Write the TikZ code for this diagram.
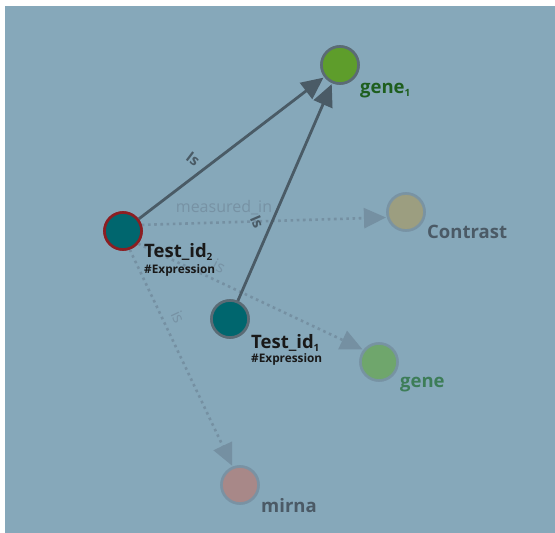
\documentclass[tikz,border=0pt]{standalone}
\usepackage{fontspec}
\setmainfont{Open Sans}
\usetikzlibrary{arrows.meta}

\definecolor{bgblue}{HTML}{86A8BA}
\definecolor{edgedark}{HTML}{4A5B66}
\definecolor{edgefade}{HTML}{7590A2}
\definecolor{ringgray}{HTML}{5B6B75}
\definecolor{ringfade}{HTML}{7893A5}
\definecolor{tealfill}{HTML}{00666E}
\definecolor{ringred}{HTML}{8B1E22}
\definecolor{genegreen}{HTML}{5E9D2B}
\definecolor{genefade}{HTML}{6FA66C}
\definecolor{contrastfill}{HTML}{9C9E80}
\definecolor{mirnafill}{HTML}{A88888}
\definecolor{txtgreen}{HTML}{1E5E1E}
\definecolor{txtgreenfade}{HTML}{3D7D58}
\definecolor{txtgray}{HTML}{4B5A66}
\definecolor{txtfade}{HTML}{7792A4}

\newcommand\subidx[1]{\raisebox{-0.3ex}{\fontsize{10}{10}\selectfont #1}}

\tikzset{
  x=1pt, y=-1pt,
  entity/.style={circle, inner sep=0pt, minimum size=37pt, line width=2.6pt},
  namelabel/.style={anchor=base west, inner sep=0pt, font=\fontsize{18.5}{19}\selectfont\bfseries},
  taglabel/.style={anchor=base west, inner sep=0pt, font=\fontsize{11.8}{12}\selectfont\bfseries},
  solidrel/.style={draw=edgedark, line width=2.8pt,
    -{Triangle[length=22pt,width=20pt]}, shorten >=1pt},
  dottedrel/.style={draw=edgefade, line width=2.6pt, dash pattern=on 2.6pt off 3.6pt,
    -{Triangle[length=22pt,width=20pt]}, shorten >=1pt},
  rellabel/.style={text=edgedark, inner sep=0pt, font=\fontsize{15}{15}\selectfont\bfseries},
  fadelabel/.style={text=txtfade, inner sep=0pt, font=\fontsize{16}{16}\selectfont},
}

\begin{document}
\begin{tikzpicture}
  % canvas
  \useasboundingbox (0,0) rectangle (555,533);
  \fill[white] (0,0) rectangle (555,533);
  \fill[bgblue] (5,6) rectangle (555,533);

  % entities (placed first so relations can refer to them)
  \node[entity, draw=ringgray, fill=genegreen] (gene1) at (340,65) {};
  \node[entity, draw=ringred, fill=tealfill] (t2) at (123,231) {};
  \node[entity, draw=ringgray, fill=tealfill] (t1) at (230,319) {};
  \node[entity, draw=ringfade, fill=contrastfill] (contrast) at (406,212) {};
  \node[entity, draw=ringfade, fill=genefade] (gene) at (379,362) {};
  \node[entity, draw=ringfade, fill=mirnafill] (mirna) at (240,485) {};

  % faded relations
  \draw[dottedrel] (t2.18) -- (contrast.196);
  \draw[dottedrel] (t2.-40) -- (gene.142);
  \draw[dottedrel] (t2.-70) -- (mirna.112);
  \node[fadelabel] (lmeas) at (224,208) {measured\_in};
  \node[fadelabel, rotate=-27] (lis1) at (219,266) {is};
  \node[fadelabel, rotate=-65] (lis2) at (178,317) {is};

  % main relations
  \draw[solidrel] (t2) -- (gene1);
  \draw[solidrel] (t1) -- (gene1);
  \node[rellabel, rotate=-37] (lIs1) at (193,159) {Is};
  \node[rellabel, rotate=-67] (lIs2) at (257,222) {Is};

  % redraw entities above the relations
  \node[entity, draw=ringgray, fill=genegreen] at (gene1) {};
  \node[entity, draw=ringred, fill=tealfill] at (t2) {};
  \node[entity, draw=ringgray, fill=tealfill] at (t1) {};
  \node[entity, draw=ringfade, fill=contrastfill, opacity=0.85] at (contrast) {};
  \node[entity, draw=ringfade, fill=genefade, opacity=0.85] at (gene) {};
  \node[entity, draw=ringfade, fill=mirnafill, opacity=0.85] at (mirna) {};

  % entity names
  \node[namelabel, text=txtgreen] (ngene1) at (360,93) {gene\subidx{1}};
  \node[namelabel, text=black!90] (nt2) at (144,257) {Test\_id\subidx{2}};
  \node[taglabel, text=black!90] (xt2) at (144,273) {\#Expression};
  \node[namelabel, text=black!90] (nt1) at (251,348) {Test\_id\subidx{1}};
  \node[taglabel, text=black!90] (xt1) at (251,362) {\#Expression};
  \node[namelabel, text=txtgray] (ncontrast) at (427,238) {Contrast};
  \node[namelabel, text=txtgreenfade] (ngene) at (400,387) {gene};
  \node[namelabel, text=txtgray] (nmirna) at (261,512) {mirna};
\end{tikzpicture}
\end{document}
